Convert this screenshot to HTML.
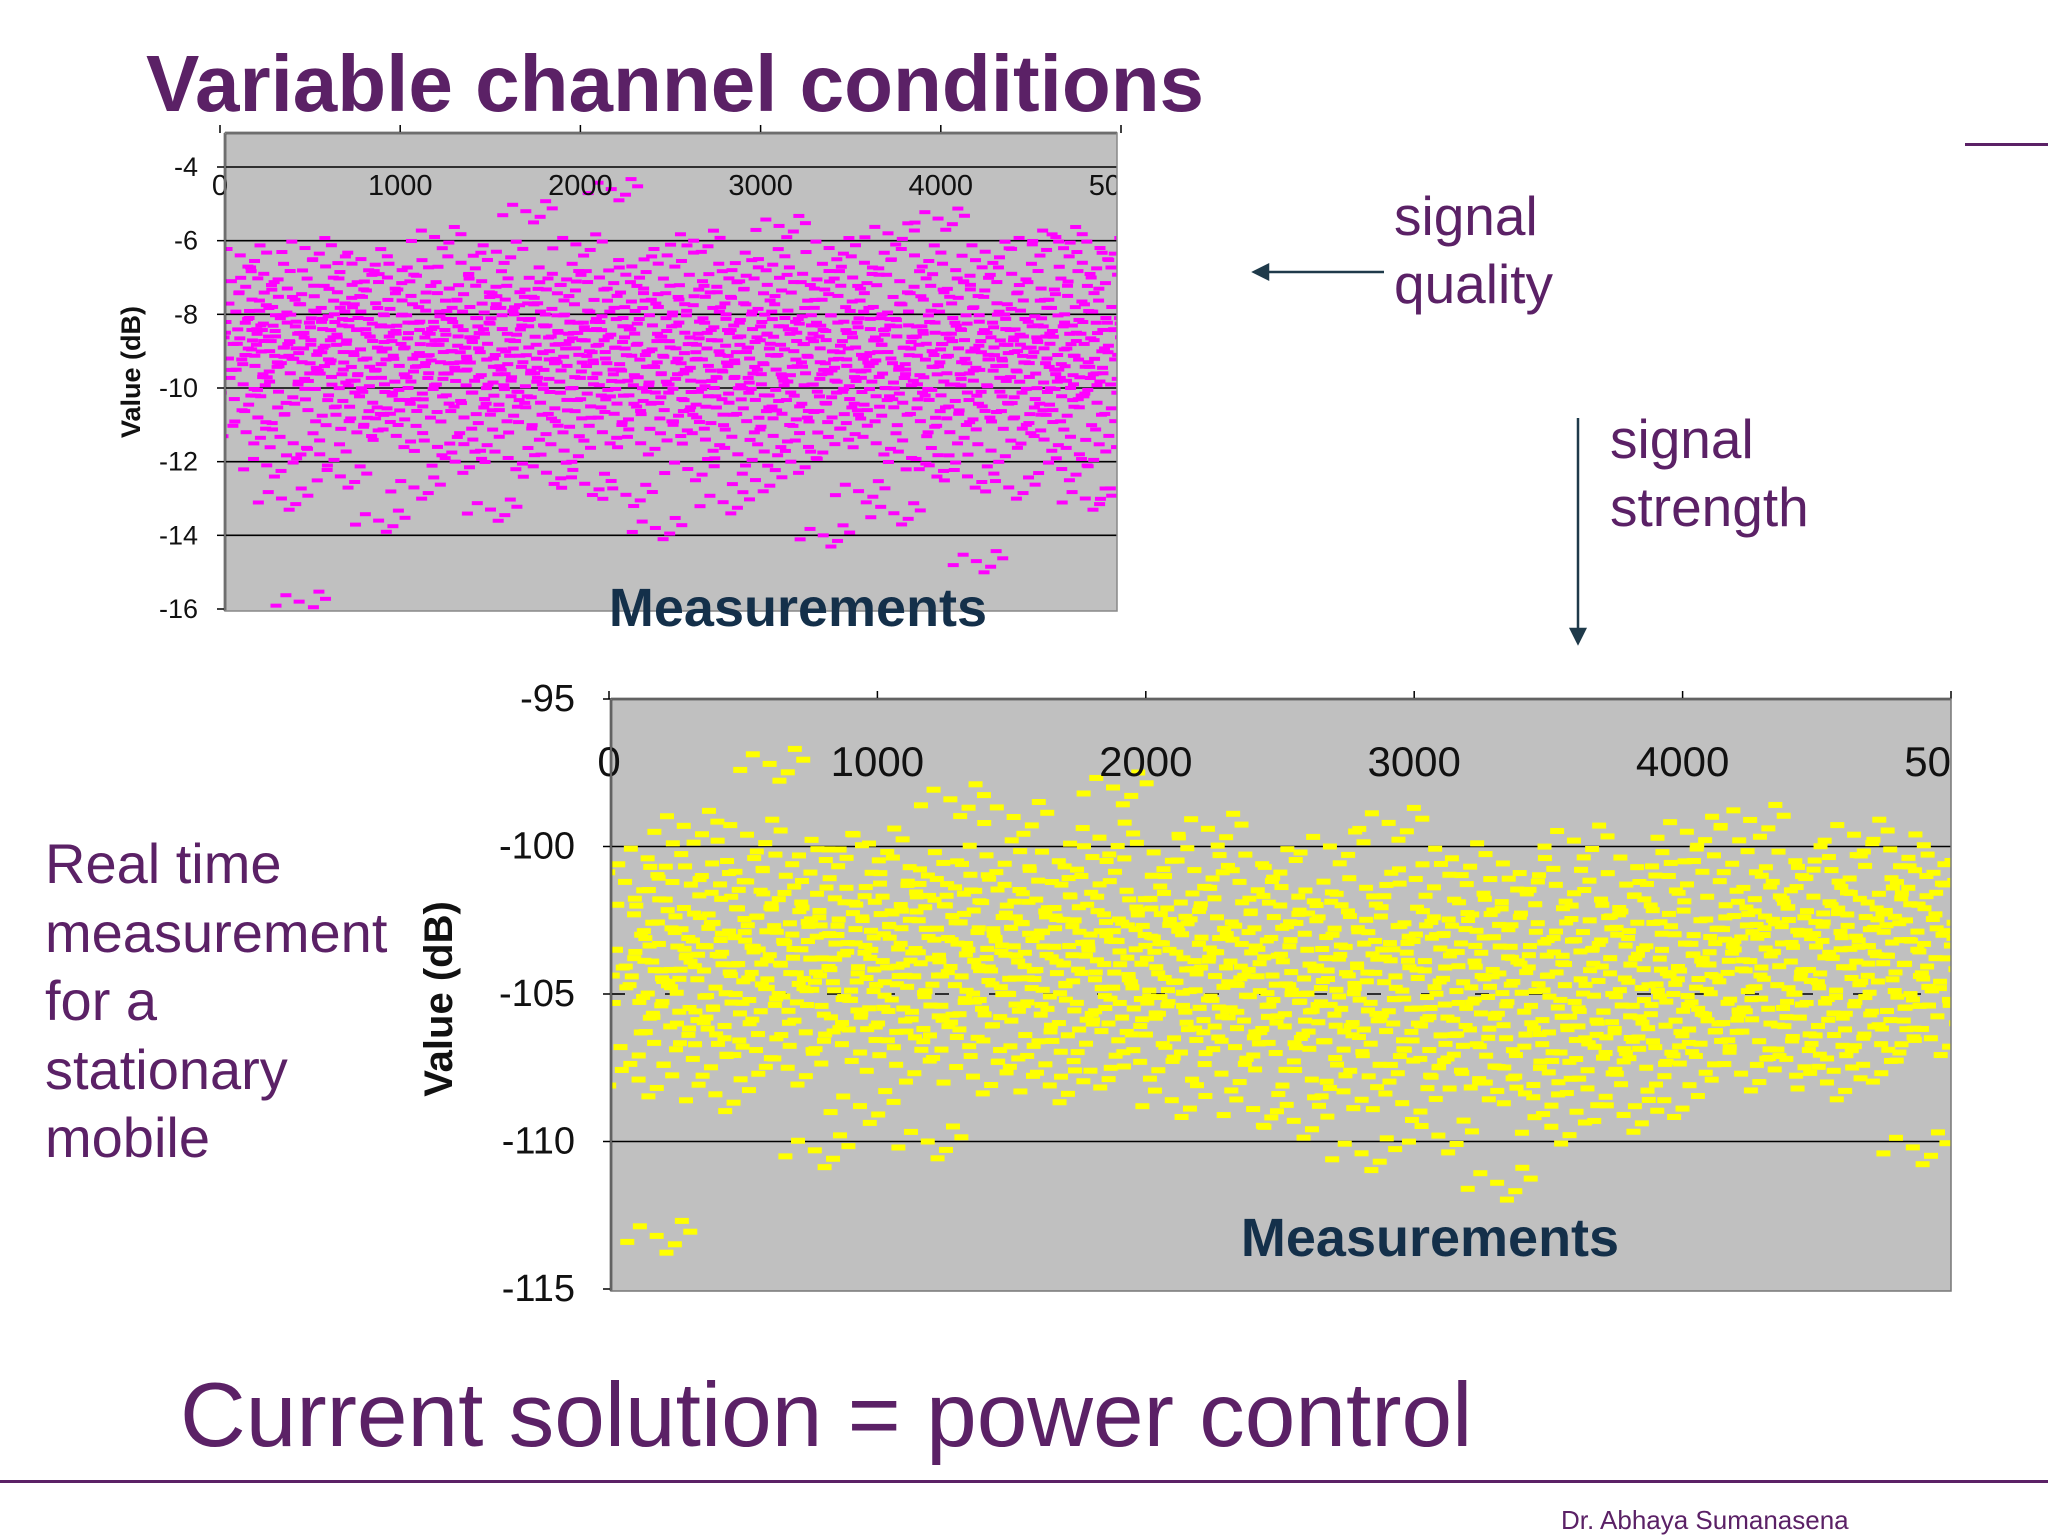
<!DOCTYPE html>
<html><head><meta charset="utf-8"><style>
body{margin:0;width:2048px;height:1536px;background:#fff;overflow:hidden;font-family:"Liberation Sans",sans-serif;position:relative}
.t{position:absolute;color:#5b2166;white-space:nowrap}
</style></head><body>
<div class="t" style="left:146px;top:38px;font-size:80px;font-weight:bold">Variable channel conditions</div>
<div class="t" style="left:1394px;top:182px;font-size:55px;line-height:68px">signal<br>quality</div>
<div class="t" style="left:1610px;top:405px;font-size:55px;line-height:68px">signal<br>strength</div>
<div class="t" style="left:45px;top:830px;font-size:56px;line-height:68.5px">Real time<br>measurement<br>for a<br>stationary<br>mobile</div>
<div class="t" style="left:180px;top:1364px;font-size:91px">Current solution = power control</div>
<div style="position:absolute;left:0;top:1480px;width:2048px;height:3px;background:#5b2166"></div>
<div style="position:absolute;left:1965px;top:143px;width:83px;height:3px;background:#5b2166"></div>
<div class="t" style="left:1561px;top:1505px;font-size:26px;color:#5b2166">Dr. Abhaya Sumanasena</div>
<svg width="2048" height="1536" style="position:absolute;left:0;top:0">
<defs><clipPath id="ct"><rect x="200" y="100" width="917" height="520"/></clipPath><clipPath id="cb"><rect x="590" y="690" width="1361" height="610"/></clipPath>
<clipPath id="ctp"><rect x="226" y="134" width="891" height="477"/></clipPath><clipPath id="cbp"><rect x="612" y="700" width="1339" height="591"/></clipPath></defs>
<g stroke="#1f3a4a" stroke-width="2.5" fill="#1f3a4a">
<line x1="1384" y1="272" x2="1262" y2="272"/><polygon points="1254,272 1268,265 1268,279"/>
<line x1="1578" y1="418" x2="1578" y2="635"/><polygon points="1578,643 1571,629 1585,629"/>
</g>
<g id="top"></g><g id="bot"></g>
</svg>
<script>
const topValues=[-8.5,-9.2,-7.1,-10.3,-8.8,-6.4,-9.9,-11.2,-8.1,-7.6,-9.4,-10.8,-8.3,-6.9,-12.1,-9.0,-7.8,-8.6,-10.1,-13.0,-8.9,-7.3,-9.6,-11.5,-8.2,-15.8,-9.3,-6.2,-10.6,-8.7,-7.9,-9.1,-11.8,-8.4,-6.7,-10.2,-9.7,-8.0,-7.4,-12.4,-9.5,-8.8,-10.9,-7.2,-9.8,-8.1,-6.5,-11.0,-9.2,-8.6,-10.4,-7.7,-13.6,-8.3,-9.9,-7.0,-10.7,-8.5,-11.3,-9.4,-6.8,-8.9,-10.0,-7.5,-12.7,-9.1,-8.2,-10.5,-7.9,-9.6,-8.4,-5.9,-11.6,-9.3,-8.7,-10.2,-7.3,-9.0,-12.0,-8.6,-6.6,-10.8,-9.5,-7.8,-11.4,-8.1,-9.7,-7.1,-10.3,-8.8,-13.3,-9.2,-6.3,-10.6,-8.4,-7.6,-11.9,-9.8,-8.0,-10.1,-7.4,-9.3,-5.2,-8.9,-11.1,-9.6,-7.7,-10.4,-8.3,-12.3,-9.0,-6.9,-10.9,-8.5,-7.2,-11.7,-9.4,-8.2,-10.0,-6.1,-9.1,-8.7,-12.6,-7.9,-10.5,-9.9,-8.4,-7.0,-11.2,-9.2,-8.6,-4.6,-10.7,-7.5,-9.5,-8.1,-12.9,-10.2,-6.7,-9.7,-8.8,-11.5,-7.3,-10.1,-9.0,-8.3,-13.8,-7.8,-9.6,-10.6,-6.4,-8.9,-11.0,-9.3,-7.6,-10.3,-8.5,-12.2,-9.8,-6.0,-10.8,-8.2,-7.1,-11.4,-9.4,-8.7,-10.0,-7.4,-9.1,-13.1,-8.0,-10.4,-6.8,-9.7,-11.8,-8.6,-7.7,-10.9,-9.2,-8.4,-12.5,-6.5,-9.9,-10.2,-7.2,-8.8,-11.3,-9.5,-5.6,-10.7,-8.1,-7.9,-12.0,-9.0,-8.5,-10.5,-6.9,-9.6,-11.6,-8.3,-7.3,-10.1,-9.3,-14.0,-8.7,-6.2,-10.8,-9.8,-7.5,-11.1,-8.2,-9.4,-10.3,-7.0,-8.9,-12.8,-9.1,-6.6,-10.6,-8.4,-7.8,-11.5,-9.7,-8.0,-10.0,-5.8,-9.2,-13.4,-8.6,-7.1,-10.4,-9.5,-8.3,-11.9,-6.4,-9.9,-10.9,-7.6,-8.8,-12.1,-9.0,-8.5,-5.4,-10.2,-7.4,-9.6,-11.2,-8.1,-6.8,-10.7,-9.3,-8.7,-12.4,-7.2,-9.8,-14.7,-8.2,-10.5,-6.3,-9.1,-11.7,-8.9,-7.7,-10.1,-9.4,-8.4,-12.7,-6.9,-10.8,-9.0,-7.9,-8.6,-11.0,-9.7,-6.1,-10.3,-8.3,-7.3,-11.4,-9.2,-8.8,-10.6,-5.9,-9.5,-12.2,-8.0,-7.5,-10.0,-9.9,-8.5,-11.8,-6.6,-13.0,-9.3,-7.0,-8.7,-10.4,-6.2,-9.6,-8.1,-11.3,-7.8,-10.9,-9.1,-8.4,-12.9];
const bottomValues=[-103.5,-106.8,-101.2,-104.7,-102.3,-107.9,-105.1,-100.4,-103.9,-113.2,-104.2,-101.8,-106.1,-102.9,-105.6,-99.3,-103.1,-107.2,-104.5,-101.0,-105.8,-102.6,-108.4,-103.7,-106.5,-100.9,-104.0,-102.1,-105.3,-99.6,-103.4,-106.9,-101.5,-104.8,-97.2,-102.7,-105.0,-103.2,-107.5,-100.6,-104.3,-101.9,-106.3,-103.8,-110.3,-102.4,-105.7,-100.1,-104.6,-103.0,-106.7,-101.4,-105.2,-102.8,-108.8,-103.6,-99.9,-104.9,-106.0,-101.7,-104.1,-102.2,-107.4,-103.3,-105.9,-100.7,-104.4,-102.5,-106.6,-110.0,-103.8,-101.1,-105.4,-102.0,-98.4,-104.7,-106.2,-101.6,-103.5,-107.8,-102.9,-105.5,-100.3,-104.2,-103.1,-106.9,-101.3,-105.0,-99.0,-103.9,-102.6,-107.1,-104.8,-101.8,-105.7,-102.2,-108.1,-103.4,-100.5,-104.0,-106.4,-102.7,-105.3,-101.0,-103.7,-107.6,-104.5,-99.7,-102.3,-106.0,-98.0,-103.2,-105.8,-101.5,-104.6,-102.8,-107.3,-103.0,-105.1,-100.2,-104.3,-106.7,-102.1,-108.6,-103.6,-101.9,-105.6,-104.9,-100.8,-103.3,-106.3,-99.4,-105.2,-102.4,-107.7,-104.1,-103.9,-106.8,-101.2,-105.9,-102.9,-108.9,-104.4,-100.6,-105.4,-103.1,-107.0,-102.0,-106.1,-104.7,-109.3,-101.7,-105.0,-103.5,-107.9,-102.5,-104.8,-106.6,-100.0,-105.7,-103.8,-108.3,-102.2,-106.4,-104.0,-110.4,-101.4,-105.3,-103.2,-107.4,-104.6,-99.2,-106.0,-102.7,-108.7,-103.6,-105.5,-101.1,-107.2,-104.2,-106.9,-102.4,-109.8,-103.0,-105.8,-100.4,-104.9,-107.6,-102.8,-106.2,-103.9,-108.0,-101.6,-105.1,-104.4,-111.4,-102.1,-106.5,-103.4,-107.8,-100.9,-105.6,-104.1,-108.5,-102.6,-106.7,-103.7,-109.5,-101.3,-105.2,-104.7,-107.3,-99.8,-106.1,-102.9,-108.2,-103.5,-105.9,-101.8,-107.0,-104.3,-106.3,-102.3,-109.1,-103.1,-105.4,-100.7,-104.8,-107.5,-102.0,-106.8,-103.8,-108.6,-101.0,-105.0,-104.5,-106.4,-99.5,-103.3,-107.1,-102.5,-105.7,-104.0,-100.3,-106.0,-102.8,-105.3,-103.6,-101.5,-107.7,-104.2,-99.1,-102.2,-106.6,-103.0,-105.5,-101.2,-104.7,-102.7,-107.2,-103.9,-100.5,-105.8,-102.4,-106.9,-101.7,-104.6,-103.2,-108.0,-100.8,-105.1,-102.9,-106.2,-104.1,-99.6,-103.4,-107.4,-101.9,-105.6,-102.1,-106.7,-103.7,-100.1,-104.9,-102.6,-105.9,-101.4,-110.2,-103.5,-104.3,-101.0,-106.5,-102.3,-104.8,-100.6,-105.2,-103.1];
const topTicksY=[-4,-6,-8,-10,-12,-14,-16];
const topTicksX=[0,1000,2000,3000,4000,5000];
const botTicksY=[-95,-100,-105,-110,-115];
const botTicksX=[0,1000,2000,3000,4000,5000];
const NS='http://www.w3.org/2000/svg';
const SPREAD=[[0,0],[1.3,1.4],[-1.2,-1.6],[2.4,-0.7],[0.7,2.8],[-2.1,1.0],[1.8,-2.5]];
function mk(p,tag,a,txt){const e=document.createElementNS(NS,tag);for(const k in a)e.setAttribute(k,a[k]);if(txt!==undefined)e.textContent=txt;p.appendChild(e);return e;}
function chart(g,cfg){
  const {px0,px1,py0,py1,y0v,y0p,y1v,y1p,x0p,x1p,vals,ticksY,ticksX,color,mw,mh,yfs,xfs,xly,ylx,title,titleX,titleFs,titleY,mTitleX,mTitleY,mFs,bright,dashMid,clip,pclip}=cfg;
  const ys=v=>y0p+(v-y0v)*(y1p-y0p)/(y1v-y0v);
  const xs=v=>x0p+v*(x1p-x0p)/5000;
  const bg=mk(g,'rect',{x:px0,y:py0,width:px1-px0,height:py1-py0,fill:'#c0c0c0'});
  
  ticksY.forEach(t=>{const y=ys(t);
    if(y>py0+3&&y<py1-3){const l=mk(g,'line',{x1:px0,x2:px1,y1:y,y2:y,stroke:'#000','stroke-width':1.6,'stroke-dasharray':(dashMid&&t===dashMid)?'14 40':''});
      }
    mk(g,'line',{x1:px0-8,x2:px0,y1:y,y2:y,stroke:'#000','stroke-width':1.5});
    const tx=mk(g,'text',{x:ylx,y:y,'text-anchor':'end','dominant-baseline':'central','font-size':yfs,fill:'#111'},String(t));
    });
  const pts=mk(g,'g',{'clip-path':`url(#${pclip})`});
  vals.forEach((v,i)=>{const x=xs(i*5000/vals.length),y=ys(v);
    SPREAD.forEach((o,k)=>{
      const r=mk(pts,'rect',{x:x+o[0]*mw,y:y-mh/2+o[1]*mh,width:mw,height:mh,fill:color});
      });});
  const lab=mk(g,'g',{'clip-path':`url(#${clip})`});
  ticksX.forEach(t=>{const x=xs(t);
    mk(g,'line',{x1:x,x2:x,y1:py0-8,y2:py0,stroke:'#000','stroke-width':1.5});
    const tx=mk(lab,'text',{x:x,y:xly,'text-anchor':'middle','font-size':xfs,fill:'#111'},String(t));
    });
  mk(g,'line',{x1:px0,x2:px1,y1:py0,y2:py0,stroke:'#222','stroke-width':2.5});
  mk(g,'line',{x1:px0,x2:px0,y1:py0,y2:py1,stroke:'#222','stroke-width':2.5});
  mk(g,'rect',{x:px0,y:py0,width:px1-px0,height:py1-py0,fill:'none',stroke:bright,'stroke-width':1.5});
  const yt=mk(g,'text',{x:titleX,y:titleY,transform:`rotate(-90 ${titleX} ${titleY})`,'text-anchor':'middle','font-size':titleFs,'font-weight':'bold',fill:'#111'},title);
  
  const xt=mk(g,'text',{x:mTitleX,y:mTitleY,'text-anchor':'middle','font-size':mFs,'font-weight':'bold',fill:'#14304a'},'Measurements');
  
}
const gt=document.getElementById('top');
const gb=document.getElementById('bot');
chart(gt,{px0:225,px1:1117,py0:133,py1:611,y0v:-4,y0p:167,y1v:-16,y1p:609,x0p:220,x1p:1121,vals:topValues,ticksY:topTicksY,ticksX:topTicksX,color:'#ff00ff',mw:11,mh:4,yfs:27,xfs:29,xly:195,ylx:198,title:'Value (dB)',titleX:140,titleY:372,titleFs:27,mTitleX:798,mTitleY:626,mFs:54,bright:'#888',clip:'ct',pclip:'ctp'});
chart(gb,{px0:611,px1:1951,py0:699,py1:1291,y0v:-95,y0p:699,y1v:-115,y1p:1289,x0p:609,x1p:1951,vals:bottomValues,ticksY:botTicksY,ticksX:botTicksX,color:'#ffff00',mw:14,mh:6,yfs:38,xfs:42,xly:776,ylx:575,title:'Value (dB)',titleX:452,titleY:999,titleFs:40,mTitleX:1430,mTitleY:1256,mFs:54,bright:'#777',dashMid:-105,clip:'cb',pclip:'cbp'});
</script>
</body></html>
